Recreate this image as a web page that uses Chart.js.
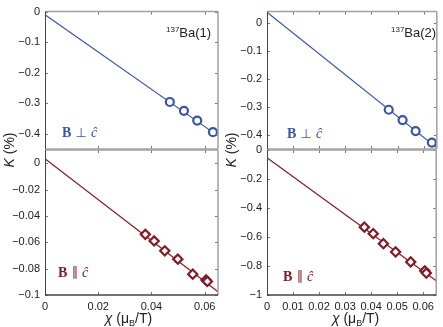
<!DOCTYPE html>
<html>
<head>
<meta charset="utf-8">
<script src="https://cdn.jsdelivr.net/npm/chart.js@4.4.1/dist/chart.umd.min.js"></script>
<style>
  html, body { margin: 0; padding: 0; background: #fff; }
  #wrap { position: relative; width: 443px; height: 327px; }
  #wrap canvas { position: absolute; left: 0; top: 0; width: 443px; height: 327px; }
</style>
</head>
<body>
<div id="wrap">
  <canvas id="tl" width="443" height="327"></canvas>
  <canvas id="tr" width="443" height="327"></canvas>
  <canvas id="bl" width="443" height="327"></canvas>
  <canvas id="br" width="443" height="327"></canvas>
</div>
<script>
// chi (muB/T) and Knight shift K (%)
const perpX1 = [0.0469, 0.0522, 0.0572, 0.0631];
const perpK1 = [-0.296, -0.325, -0.357, -0.395];
const parX1 = [0.0377, 0.0410, 0.0450, 0.0499, 0.0555, 0.0605, 0.0610];
const parK1 = [-0.054, -0.059, -0.0665, -0.0728, -0.0842, -0.0886, -0.0897];

const perpX2 = [0.0466, 0.0519, 0.0569, 0.0631];
const perpK2 = [-0.310, -0.347, -0.386, -0.427];
const parX2 = [0.0374, 0.0408, 0.0447, 0.0494, 0.0552, 0.0606, 0.0612];
const parK2 = [-0.532, -0.577, -0.646, -0.703, -0.772, -0.833, -0.849];

// linear fits, end points at chi = 0 and chi = 0.065
const fitX = [0, 0.065];
const perpFit1 = [-0.010, -0.407];
const parFit1 = [0.0033, -0.0976];
const perpFit2 = [0.038, -0.446];
const parFit2 = [-0.053, -0.902];

// tick labels
const xTicks1 = [0, 0.02, 0.04, 0.06];
const xTicks2 = [0, 0.01, 0.02, 0.03, 0.04, 0.05, 0.06];
const yTicksPerp1 = [0, -0.1, -0.2, -0.3, -0.4];
const yTicksPar1 = [0, -0.02, -0.04, -0.06, -0.08, -0.1];
const yTicksPerp2 = [0, -0.1, -0.2, -0.3, -0.4];
const yTicksPar2 = [0, -0.2, -0.4, -0.6, -0.8, -1];

const BLUE = '#3a55a4';
const RED = '#801b27';
const SANS = '"Liberation Sans", Arial, sans-serif';
const SERIF = '"Liberation Serif", "DejaVu Serif", serif';

const fmt = v => v === 0 ? '0' : String(v).replace('-', '\u2212');

function line(ctx, x1, y1, x2, y2) {
  ctx.beginPath(); ctx.moveTo(x1, y1); ctx.lineTo(x2, y2); ctx.stroke();
}

// draws a run of [text, font, dy] pieces starting at x
function runs(ctx, x, y, parts) {
  parts.forEach(([t, f, dy]) => {
    ctx.font = f;
    ctx.fillText(t, x, y + (dy || 0));
    x += ctx.measureText(t).width;
  });
}
function runsWidth(ctx, parts) {
  let w = 0;
  parts.forEach(([t, f]) => { ctx.font = f; w += ctx.measureText(t).width; });
  return w;
}

function deco(p) {
  return {
    id: 'deco',
    afterDraw(chart) {
      const { ctx, chartArea: a, scales: { x, y } } = chart;
      ctx.save();
      ctx.strokeStyle = '#777';
      ctx.lineWidth = 1;
      p.yTicks.forEach(v => {
        const py = Math.round(y.getPixelForValue(v)) + 0.5;
        line(ctx, a.left, py, a.left + 3, py);
        line(ctx, a.right - 3, py, a.right, py);
      });
      p.xTicks.forEach(v => {
        const px = Math.round(x.getPixelForValue(v)) + 0.5;
        line(ctx, px, a.bottom, px, a.bottom - 3);
        line(ctx, px, a.top, px, a.top + 3);
      });
      // box
      ctx.strokeStyle = '#a0a0a0';
      ctx.lineWidth = 1.5;
      line(ctx, a.left, a.top, a.right, a.top);
      line(ctx, a.right, a.top, a.right, a.bottom);
      ctx.strokeStyle = p.bottomAxis ? '#444' : '#a0a0a0';
      line(ctx, a.left, a.bottom, a.right, a.bottom);
      ctx.strokeStyle = '#444';
      ctx.lineWidth = 1;
      line(ctx, a.left + 0.5, a.top, a.left + 0.5, a.bottom);

      // field direction label
      ctx.fillStyle = p.color;
      ctx.textBaseline = 'middle';
      ctx.textAlign = 'left';
      runs(ctx, a.left + p.lab[0], a.top + p.lab[1], [
        ['B', 'bold 14px ' + SERIF],
        [p.perp ? ' \u22A5 ' : ' \u2225 ', '13px "DejaVu Sans", sans-serif'],
        ['\u0109', 'italic 14px ' + SERIF]
      ]);

      ctx.fillStyle = '#222';
      if (p.site) {
        ctx.textBaseline = 'alphabetic';
        runs(ctx, a.left + p.site[0], a.top + 25, [
          ['137', '8px ' + SANS, -5],
          ['Ba(' + p.site[1] + ')', '13px ' + SANS]
        ]);
      }
      if (p.bottomAxis) {
        // x axis title
        const parts = [
          ['\u03C7', 'italic 14px ' + SANS],
          [' (\u03BC', '14px ' + SANS],
          ['B', '9px ' + SANS, 3],
          ['/T)', '14px ' + SANS]
        ];
        ctx.textBaseline = 'alphabetic';
        const w = runsWidth(ctx, parts);
        runs(ctx, (a.left + a.right) / 2 - w / 2 + p.xtShift, 323, parts);
        // y axis title, shared by both panels of a column
        const yparts = [['K', 'italic 14px ' + SANS], [' (%)', '14px ' + SANS]];
        const yw = runsWidth(ctx, yparts);
        ctx.save();
        ctx.translate(p.ytX, 150);
        ctx.rotate(-Math.PI / 2);
        ctx.textBaseline = 'middle';
        runs(ctx, -yw / 2, 0, yparts);
        ctx.restore();
      }
      ctx.restore();
    }
  };
}

function makePanel(id, p) {
  const ctx = document.getElementById(id).getContext('2d');
  return new Chart(ctx, {
    type: 'scatter',
    data: {
      datasets: [
        {
          data: p.xs.map((v, i) => ({ x: v, y: p.ys[i] })),
          pointStyle: p.perp ? 'circle' : 'rectRot',
          pointRadius: p.perp ? 4 : 4.6,
          borderColor: p.color,
          backgroundColor: '#fff',
          borderWidth: 2.2,
          pointBorderWidth: 2.2
        },
        {
          data: fitX.map((v, i) => ({ x: v, y: p.fit[i] })),
          showLine: true,
          pointRadius: 0,
          borderColor: p.color,
          borderWidth: 1.2
        }
      ]
    },
    options: {
      responsive: false,
      animation: false,
      events: [],
      layout: { padding: p.pad },
      plugins: { legend: { display: false }, tooltip: { enabled: false } },
      scales: {
        x: {
          type: 'linear',
          min: 0,
          max: 0.065,
          display: p.bottomAxis,
          afterBuildTicks: s => { s.ticks = p.xTicks.map(v => ({ value: v })); },
          afterFit: s => { s.height = p.bottomAxis ? 32 : 0; },
          grid: { display: false, drawTicks: false },
          border: { display: false },
          ticks: {
            autoSkip: false, maxRotation: 0, padding: 5,
            color: '#222', font: { family: SANS, size: 11 },
            callback: fmt
          }
        },
        y: {
          type: 'linear',
          min: p.yMin,
          max: p.yMax,
          afterBuildTicks: s => { s.ticks = p.yTicks.map(v => ({ value: v })); },
          afterFit: s => { s.width = 45; },
          grid: { display: false, drawTicks: false },
          border: { display: false },
          ticks: {
            autoSkip: false, padding: 5,
            color: '#222', font: { family: SANS, size: 11 },
            callback: fmt
          }
        }
      }
    },
    plugins: [deco(p)]
  });
}

makePanel('tl', {
  xs: perpX1, ys: perpK1, fit: perpFit1, color: BLUE, perp: true,
  xTicks: xTicks1, yTicks: yTicksPerp1, yMin: -0.45, yMax: 0,
  pad: { left: 0, top: 5, right: 225, bottom: 178 },
  bottomAxis: false, lab: [17, 122], site: [121, '1']
});
makePanel('bl', {
  xs: parX1, ys: parK1, fit: parFit1, color: RED, perp: false,
  xTicks: xTicks1, yTicks: yTicksPar1, yMin: -0.1, yMax: 0.01,
  pad: { left: 0, top: 150, right: 225, bottom: 0 },
  bottomAxis: true, lab: [13, 123], xtShift: -3, ytX: 10
});
makePanel('tr', {
  xs: perpX2, ys: perpK2, fit: perpFit2, color: BLUE, perp: true,
  xTicks: xTicks2, yTicks: yTicksPerp2, yMin: -0.45, yMax: 0.04,
  pad: { left: 222, top: 5, right: 4, bottom: 178 },
  bottomAxis: false, lab: [20, 123], site: [124, '2']
});
makePanel('br', {
  xs: parX2, ys: parK2, fit: parFit2, color: RED, perp: false,
  xTicks: xTicks2, yTicks: yTicksPar2, yMin: -1, yMax: 0,
  pad: { left: 222, top: 150, right: 4, bottom: 0 },
  bottomAxis: true, lab: [16, 127], xtShift: 4, ytX: 232
});
</script>
</body>
</html>
